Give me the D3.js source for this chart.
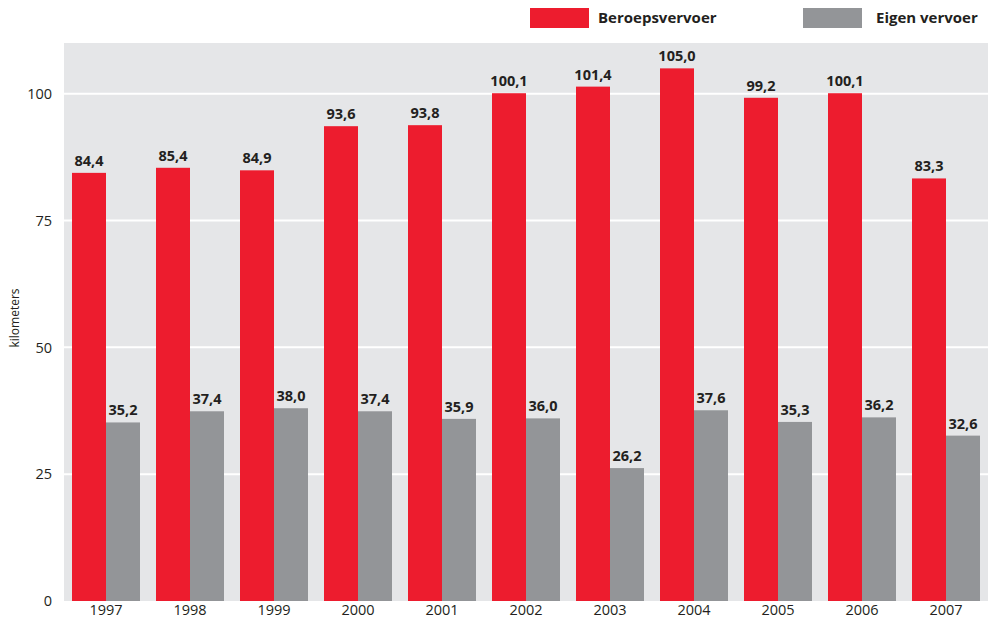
<!DOCTYPE html>
<html><head><meta charset="utf-8">
<script src="https://cdn.jsdelivr.net/npm/d3@7"></script>
<style>
html,body{margin:0;padding:0;background:#fff;}
svg{display:block;font-family:"Open Sans","Noto Sans",sans-serif;}
</style></head>
<body>
<svg id="chart" width="988" height="622"></svg>
<script>
const years = ["1997","1998","1999","2000","2001","2002","2003","2004","2005","2006","2007"];
const beroepsvervoer = [84.4,85.4,84.9,93.6,93.8,100.1,101.4,105.0,99.2,100.1,83.3];
const eigenVervoer = [35.2,37.4,38.0,37.4,35.9,36.0,26.2,37.6,35.3,36.2,32.6];
const seriesNames = ["Beroepsvervoer","Eigen vervoer"];
const seriesColors = ["#ed1c2e","#939598"];
const yTicks = [0,25,50,75,100];

(function(){
const svg = d3.select("#chart");
const pL = 64, pR = 988, pT = 43, pB = 601;
const x = d3.scaleBand().domain(years).range([pL,pR]).paddingInner(16/84).paddingOuter(8/84);
const sub = d3.scaleBand().domain(seriesNames).range([0,x.bandwidth()]);
const y = d3.scaleLinear().domain([0,110]).range([pB,pT]);

svg.append("rect").attr("x",pL).attr("y",pT).attr("width",pR-pL).attr("height",pB-pT).attr("fill","#e5e6e8");

svg.append("g").selectAll("line").data(yTicks.filter(d=>d>0)).join("line")
  .attr("x1",pL).attr("x2",pR).attr("y1",d=>y(d)).attr("y2",d=>y(d))
  .attr("stroke","#fff").attr("stroke-width",2);

const fmt = v => d3.format(".1f")(v).replace(".",",");
const data = years.map((yr,i)=>({yr, vals:[beroepsvervoer[i], eigenVervoer[i]]}));

const g = svg.append("g").selectAll("g").data(data).join("g")
  .attr("transform",d=>`translate(${x(d.yr)},0)`);
g.selectAll("rect").data(d=>d.vals.map((v,j)=>({v,s:seriesNames[j],j}))).join("rect")
  .attr("x",d=>sub(d.s)).attr("width",sub.bandwidth())
  .attr("y",d=>y(d.v)).attr("height",d=>y(0)-y(d.v))
  .attr("fill",d=>seriesColors[d.j]);
g.selectAll("text").data(d=>d.vals.map((v,j)=>({v,s:seriesNames[j],j}))).join("text")
  .attr("x",d=>sub(d.s)+sub.bandwidth()/2).attr("y",d=>y(d.v)-7)
  .attr("text-anchor","middle").attr("font-size",14.5).attr("font-weight","bold")
  .attr("fill","#231f20").text(d=>fmt(d.v));

const yAxis = d3.axisLeft(y).tickValues(yTicks).tickSize(0).tickPadding(12);
const ya = svg.append("g").attr("transform",`translate(${pL},0)`).call(yAxis);
ya.select(".domain").remove();
ya.selectAll("text").attr("font-size",14.5).attr("fill","#231f20").attr("font-family","'Open Sans','Noto Sans',sans-serif");

const xAxis = d3.axisBottom(x).tickSize(0).tickPadding(4);
const xa = svg.append("g").attr("transform",`translate(0,${pB})`).call(xAxis);
xa.select(".domain").remove();
xa.selectAll("text").attr("font-size",14.5).attr("fill","#231f20").attr("font-family","'Open Sans','Noto Sans',sans-serif");

svg.append("text").attr("transform","translate(19,318) rotate(-90)")
  .attr("text-anchor","middle").attr("font-size",12).attr("fill","#231f20").text("kilometers");

const legX = [530, 803];
const legTx = [68, 73];
const leg = svg.append("g").selectAll("g").data(seriesNames).join("g")
  .attr("transform",(d,i)=>`translate(${legX[i]},8)`);
leg.append("rect").attr("width",59).attr("height",20).attr("fill",(d,i)=>seriesColors[i]);
leg.append("text").attr("x",(d,i)=>legTx[i]).attr("y",15).attr("font-size",15).attr("font-weight","bold")
  .attr("fill","#231f20").text(d=>d);
})();
</script>
</body></html>
